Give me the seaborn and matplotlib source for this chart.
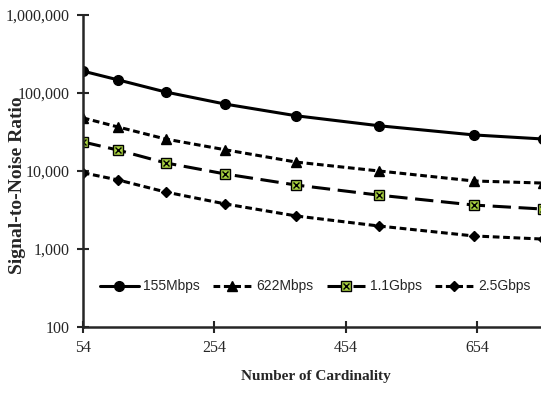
import pandas as pd
import matplotlib.pyplot as plt
import seaborn as sns
from matplotlib.lines import Line2D

# x positions (cardinality) and SNR values
cardinality = [54, 108, 180, 271, 379, 505, 649, 755]
snr_155m = [191000, 147000, 103000, 72000, 51000, 38000, 29000, 25700]
snr_622m = [48000, 36600, 25700, 18700, 13000, 10000, 7450, 7000]
snr_1g1 = [23600, 18500, 12700, 9150, 6600, 4900, 3660, 3250]
snr_2g5 = [9500, 7670, 5380, 3780, 2650, 1970, 1470, 1340]

labels = ["155Mbps", "622Mbps", "1.1Gbps", "2.5Gbps"]
x_ticks = [54, 254, 454, 654]
y_ticks = [100, 1000, 10000, 100000, 1000000]

df = pd.DataFrame({
    "card": cardinality * 4,
    "snr": snr_155m + snr_622m + snr_1g1 + snr_2g5,
    "rate": [l for l in labels for _ in cardinality],
})

sns.set_style("ticks")
plt.rcParams['font.family'] = ['Liberation Serif', 'DejaVu Serif']

fig = plt.figure(figsize=(5.41, 3.94), dpi=100)
ax = fig.add_axes([0.153, 0.170, 0.86, 0.792])

styles = {
    "155Mbps": dict(marker="o", linestyle="-", ms=7, mfc="black"),
    "622Mbps": dict(marker="^", linestyle=(0, (2.2, 1.2)), ms=7, mfc="black"),
    "1.1Gbps": dict(marker="s", linestyle=(0, (6, 2.5)), ms=7, mfc="#a8d040"),
    "2.5Gbps": dict(marker="D", linestyle=(0, (2.2, 1.2)), ms=5, mfc="black"),
}

for lab in labels:
    st = styles[lab]
    sub = df[df["rate"] == lab]
    sns.lineplot(data=sub, x="card", y="snr", ax=ax, color="black", lw=2.2,
                 linestyle=st["linestyle"], marker=st["marker"], markersize=st["ms"],
                 markerfacecolor=st["mfc"], markeredgecolor="black", markeredgewidth=1)
    if lab == "1.1Gbps":
        ax.plot(sub["card"], sub["snr"], linestyle="none", marker="x", ms=5,
                color="black", mew=1)

ax.set_yscale("log")
ax.set_ylim(100, 1000000)
ax.set_yticks(y_ticks)
ax.set_yticklabels([f"{v:,}" for v in y_ticks])
ax.minorticks_off()
ax.set_xticks(x_ticks)
ax.set_xticklabels([str(v) for v in x_ticks])
ax.tick_params(direction="inout", length=9, width=1.5, labelsize=11.5, pad=5)
for s in ["top", "right"]:
    ax.spines[s].set_visible(False)
for s in ["left", "bottom"]:
    ax.spines[s].set_linewidth(1.8)
ax.set_xlim(54, 762)

ax.set_xlabel("Number of Cardinality", fontsize=11, fontweight="bold", labelpad=10)
ax.set_ylabel("Signal-to-Noise Ratio", fontsize=14, fontweight="bold")
ax.yaxis.set_label_coords(-0.122, 0.455)

handles = []
for lab in labels:
    st = styles[lab]
    h = Line2D([], [], color="black", lw=2.2, linestyle=st["linestyle"],
               marker=st["marker"], ms=st["ms"], mfc=st["mfc"], mec="black")
    if lab == "1.1Gbps":
        hx = Line2D([], [], linestyle="none", marker="x", ms=5, color="black")
        h = (h, hx)
    handles.append(h)

ax.legend(handles, labels, loc="center", bbox_to_anchor=(0.5, 0.13), ncol=4,
          frameon=False, handlelength=2.75, columnspacing=0.95, handletextpad=0.35,
          prop={"family": ["Liberation Sans", "DejaVu Sans"], "size": 10})

fig.savefig("out.png", dpi=100)
